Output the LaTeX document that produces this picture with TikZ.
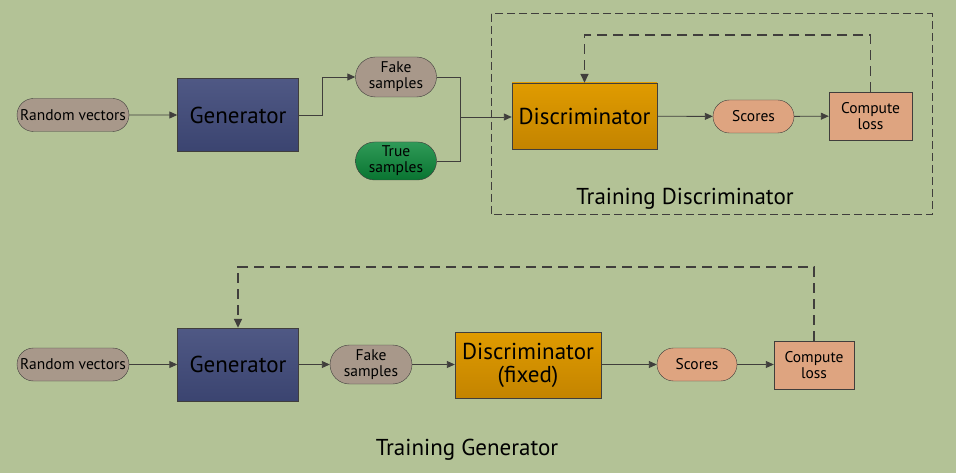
\documentclass[tikz,border=0pt]{standalone}
\usepackage{fontspec}
\setmainfont{PT Sans}
\usepackage{tikz}
\usetikzlibrary{arrows.meta,positioning,shapes.misc}

\definecolor{bg}{RGB}{179,194,150}
\definecolor{edge}{RGB}{64,62,60}
\definecolor{pillgray}{RGB}{168,152,138}
\definecolor{genblue}{RGB}{64,74,122}
\definecolor{discorange}{RGB}{222,150,0}
\definecolor{salmon}{RGB}{222,164,128}
\definecolor{truegreen}{RGB}{10,136,58}

\begin{document}
\begin{tikzpicture}
[x=1pt,y=-1pt,
 pill/.style={rounded rectangle,draw=edge,fill=pillgray,font=\fontsize{15.5}{16}\selectfont,align=center,inner sep=0pt},
 block/.style={rectangle,draw=edge,font=\fontsize{23}{23}\selectfont,align=center,inner sep=0pt},
 gen/.style={block,top color=genblue!92!white,bottom color=genblue!92!black,minimum width=121pt,minimum height=73pt},
 disc/.style={block,top color=discorange!95!yellow,bottom color=discorange!88!black,minimum width=145pt,minimum height=66pt},
 losses/.style={block,fill=salmon,font=\fontsize{15.5}{16}\selectfont,minimum width=82pt,minimum height=48pt},
 link/.style={draw=edge,line width=0.9pt,-{Triangle[length=8pt,width=7pt]}},
 wire/.style={draw=edge,line width=0.9pt},
 loop/.style={draw=edge,line width=1.6pt,dash pattern=on 10pt off 6pt,-{Triangle[length=9pt,width=8pt]}},
 frame/.style={draw=edge,line width=1pt,dash pattern=on 8pt off 4pt},
 caption/.style={font=\fontsize{23}{23}\selectfont}]
\fill[bg] (0,0) rectangle (956,473);
\useasboundingbox (0,0) rectangle (956,473);

% training the discriminator
\draw[frame] (491,14) rectangle (932,215);
\node[pill,minimum width=112pt,minimum height=33pt] (rv1) at (73,115) {Random vectors};
\node[gen] (gen1) at (238,115) {Generator};
\node[pill,minimum width=81pt,minimum height=40pt] (fake1) at (396,77) {Fake\\samples};
\node[pill,top color=truegreen!85!white,bottom color=truegreen!85!black,minimum width=81pt,minimum height=38pt] (true1) at (396,161) {True\\samples};
\node[disc] (disc1) at (584.5,116) {Discriminator};
\node[pill,fill=salmon,minimum width=81pt,minimum height=33pt] (score1) at (753.5,116.5) {Scores};
\node[losses,minimum width=83pt] (loss1) at (870.5,116) {Compute\\loss};
\node[caption] (cap1) at (685,199) {Training Discriminator};

\coordinate (bend1) at (322,115);
\coordinate (join1) at (460,117);
\coordinate (fb1) at (870.5,35);
\draw[link] (rv1) -- (gen1);
\draw[link] (gen1.east) -- (bend1) |- (fake1.west);
\draw[wire] (fake1.east) -| (join1);
\draw[wire] (true1.east) -| (join1);
\draw[link] (join1) -- (join1 -| disc1.west);
\draw[link] (disc1) -- (score1);
\draw[link] (score1) -- (loss1);
\draw[loop] (loss1.north) -- (fb1) -| (disc1.north);

% training the generator
\node[pill,minimum width=112pt,minimum height=33pt] (rv2) at (73,364.5) {Random vectors};
\node[gen] (gen2) at (238,364.5) {Generator};
\node[pill,minimum width=82pt,minimum height=39pt] (fake2) at (371,364.5) {Fake\\samples};
\node[disc,minimum width=146pt] (disc2) at (528,365) {Discriminator\\(fixed)};
\node[pill,fill=salmon,minimum width=80pt,minimum height=33pt] (score2) at (697,364.5) {Scores};
\node[losses,minimum width=80pt] (loss2) at (814,365) {Compute\\loss};
\node[caption] (cap2) at (467,450) {Training Generator};

\coordinate (fb2) at (814,267);
\draw[link] (rv2) -- (gen2);
\draw[link] (gen2) -- (fake2);
\draw[link] (fake2) -- (disc2.west |- fake2);
\draw[link] (disc2.east |- score2) -- (score2);
\draw[link] (score2) -- (loss2.west |- score2);
\draw[loop] (loss2.north) -- (fb2) -| (gen2.north);
\end{tikzpicture}
\end{document}
